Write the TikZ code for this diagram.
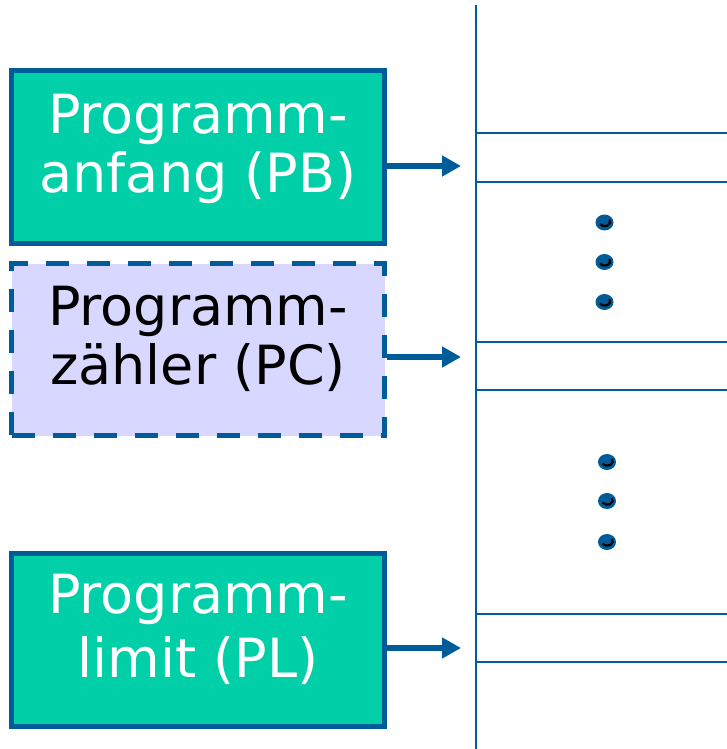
\documentclass[tikz,border=0pt]{standalone}
\usepackage{fontspec}
\setmainfont{DejaVu Sans}
\usetikzlibrary{arrows.meta}
\definecolor{regblue}{HTML}{005C98}
\definecolor{regteal}{HTML}{00CFA8}
\definecolor{reglav}{HTML}{D7D7FF}
\tikzset{
  regbox/.style={draw=regblue, line width=5pt, fill=regteal, rectangle, inner sep=0pt},
  pcbox/.style={draw=regblue, line width=5pt, fill=reglav, rectangle, inner sep=0pt,
                dash pattern=on 23pt off 18pt},
  boxtext/.style={anchor=base, inner sep=0pt, font=\fontsize{54}{60}\selectfont},
  memline/.style={draw=regblue, line width=2.5pt},
  ptr/.style={draw=regblue, line width=5.5pt, -{Triangle[length=19pt,width=20pt]}},
  dotmark/.style={fill=regblue, draw=none}
}
\begin{document}
\begin{tikzpicture}[x=1pt,y=-1pt]
  \useasboundingbox (0,0) rectangle (727,749);

  % register boxes
  \node[regbox, minimum width=373pt, minimum height=173pt] (pb) at (198,157) {};
  \node[pcbox, minimum width=373pt, minimum height=172pt] (pc) at (198,349.5) {};
  \node[regbox, minimum width=373pt, minimum height=173pt] (pl) at (198,639.5) {};

  \node[boxtext, text=white] (pbA) at (198,133) {Programm-};
  \node[boxtext, text=white] (pbB) at (198,192) {anfang (PB)};
  \node[boxtext, text=black] (pcA) at (198,325) {Programm-};
  \node[boxtext, text=black] (pcB) at (198,384) {zähler (PC)};
  \node[boxtext, text=white] (plA) at (198,613) {Programm-};
  \node[boxtext, text=white] (plB) at (198,677) {limit (PL)};

  % program memory
  \coordinate (memtop) at (476,5);
  \coordinate (membot) at (476,749);
  \draw[memline] (memtop) -- (membot);
  \foreach \yy in {133,182,342,390,614,662}
    \draw[memline] (476,\yy) -- (727,\yy);

  % pointers into memory
  \coordinate (tpb) at (461,166);
  \coordinate (tpc) at (461,357);
  \coordinate (tpl) at (461,648);
  \draw[ptr] (pb.east |- tpb) -- (tpb);
  \draw[ptr] (pc.east |- tpc) -- (tpc);
  \draw[ptr] (pl.east |- tpl) -- (tpl);

  % ellipsis dots
  \foreach \xx/\yy in {604.5/222.5, 604.5/262, 604.5/302, 607/462, 607/501, 607/542}{
    \fill[dotmark] (\xx,\yy) ellipse [x radius=9pt, y radius=8pt];
    \draw[black, line width=2.2pt] (\xx+5,\yy-3) arc[start angle=30, end angle=-150, x radius=5.5pt, y radius=4.5pt];
  }
\end{tikzpicture}
\end{document}
